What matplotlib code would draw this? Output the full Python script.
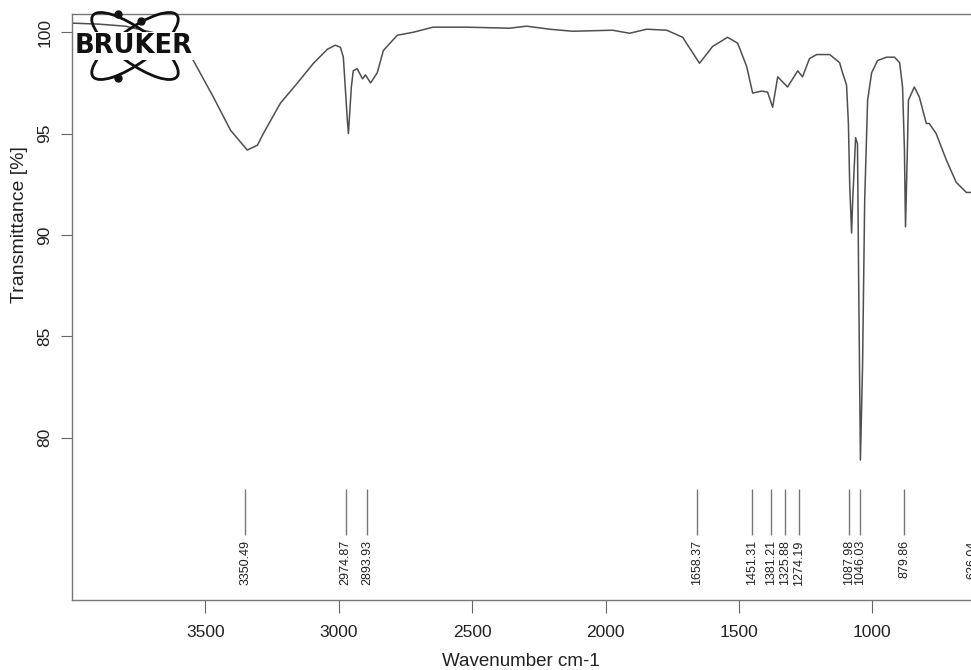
import matplotlib
matplotlib.use("Agg")
import matplotlib.pyplot as plt
from matplotlib.patches import Ellipse

plt.rcParams['font.family'] = ['Liberation Sans', 'DejaVu Sans']

# spectrum: wavenumber (cm-1), transmittance (%)
wavenumber = [3999, 3900, 3800, 3700, 3620, 3552, 3470, 3406, 3343, 3305,
              3283, 3219, 3155, 3095, 3043, 3013, 2994, 2983, 2968, 2964,
              2953, 2946, 2931, 2911, 2900, 2881, 2856, 2833, 2781, 2721,
              2647, 2521, 2360, 2296, 2210, 2124, 1974, 1910, 1846, 1771,
              1711, 1697, 1648, 1599, 1543, 1505, 1471, 1449, 1415, 1393,
              1374, 1355, 1318, 1280, 1262, 1236, 1209, 1160, 1123, 1112,
              1097, 1090, 1085, 1078, 1074, 1063, 1056, 1052, 1045, 1037,
              1029, 1018, 1003, 981, 947, 917, 898, 887, 880, 876,
              869, 865, 843, 824, 798, 787, 761, 723, 686, 648, 620]
transmittance = [100.45, 100.4, 100.3, 100.0, 99.5, 98.77, 96.8, 95.17, 94.19, 94.43,
                 95.0, 96.5, 97.5, 98.47, 99.16, 99.36, 99.26, 98.77, 95.66, 95.0,
                 97.3, 98.1, 98.2, 97.7, 97.9, 97.5, 98.0, 99.1, 99.85, 100.0,
                 100.25, 100.25, 100.2, 100.3, 100.15, 100.05, 100.1, 99.95, 100.15, 100.1,
                 99.75, 99.46, 98.47, 99.3, 99.75, 99.46, 98.3, 97.0, 97.1, 97.05,
                 96.3, 97.8, 97.3, 98.1, 97.8, 98.7, 98.9, 98.9, 98.5, 98.0,
                 97.4, 95.5, 92.4, 90.1, 91.7, 94.8, 94.5, 88.4, 78.9, 83.5,
                 91.7, 96.65, 98.0, 98.6, 98.77, 98.77, 98.5, 97.3, 94.2, 90.4,
                 94.2, 96.65, 97.3, 96.8, 95.5, 95.5, 95.0, 93.7, 92.6, 92.1, 92.1]

peaks = [3350.49, 2974.87, 2893.93, 1658.37, 1451.31, 1381.21, 1325.88,
         1274.19, 1087.98, 1046.03, 879.86, 626.04]

x_ticks = [3500, 3000, 2500, 2000, 1500, 1000]
y_ticks = [80, 85, 90, 95, 100]

W, H = 971, 670
fig = plt.figure(figsize=(W / 100, H / 100), dpi=100)
# axes runs past the right edge of the page, like the cropped scan
ax = fig.add_axes([72 / W, 70 / H, 960.5 / W, 586 / H])

ax.plot(wavenumber, transmittance, color='#4f4f4f', lw=1.1)

ax.vlines(peaks, 75.2, 77.45, color='#777777', lw=1.0)
for p in peaks:
    ax.text(p, 74.95, f'{p:.2f}', rotation=90, ha='center', va='top',
            fontsize=9, color='#222222')

ax.set_xlim(4000, 400)
ax.set_ylim(72.0, 100.9)
ax.set_xticks(x_ticks)
ax.set_yticks(y_ticks)
ax.tick_params(axis='x', length=9, width=0.8, color='#666666', pad=9,
               labelsize=12.5, labelcolor='#222222')
ax.tick_params(axis='y', length=8, width=0.8, color='#666666', pad=6,
               labelsize=12.5, labelcolor='#222222')
for lab in ax.get_yticklabels():
    lab.set_rotation(90)
    lab.set_va('center')

for s in ['left', 'top', 'bottom']:
    ax.spines[s].set_color('#777777')
    ax.spines[s].set_linewidth(1.0)
ax.spines['right'].set_visible(False)

fig.text(521 / W, 1 - 662 / H, 'Wavenumber cm-1', ha='center', va='center',
         fontsize=13.5, color='#222222')
fig.text(20 / W, 1 - 225 / H, 'Transmittance [%]', ha='center', va='center',
         rotation=90, fontsize=14, color='#222222')

# Bruker logo in the top left corner
logo = fig.add_axes([74 / W, 1 - 84 / H, 128 / W, 76 / H])
logo.set_xlim(0, 128)
logo.set_ylim(0, 76)
logo.axis('off')
logo.add_patch(Ellipse((61, 38), 104, 34, angle=36, fill=False,
                       ec='#111111', lw=2.0, zorder=1))
logo.add_patch(Ellipse((61, 38), 104, 34, angle=-36, fill=False,
                       ec='#111111', lw=2.0, zorder=1))
logo.plot([44, 44, 67], [70, 6, 63], 'o', color='#111111', ms=5, zorder=2)
logo.text(1, 38, 'BRUKER', fontsize=18.5, fontweight='bold',
          family='DejaVu Sans', color='#111111', ha='left', va='center',
          zorder=3, bbox=dict(fc='white', ec='none', pad=0.3))

fig.savefig('out.png', dpi=100)
